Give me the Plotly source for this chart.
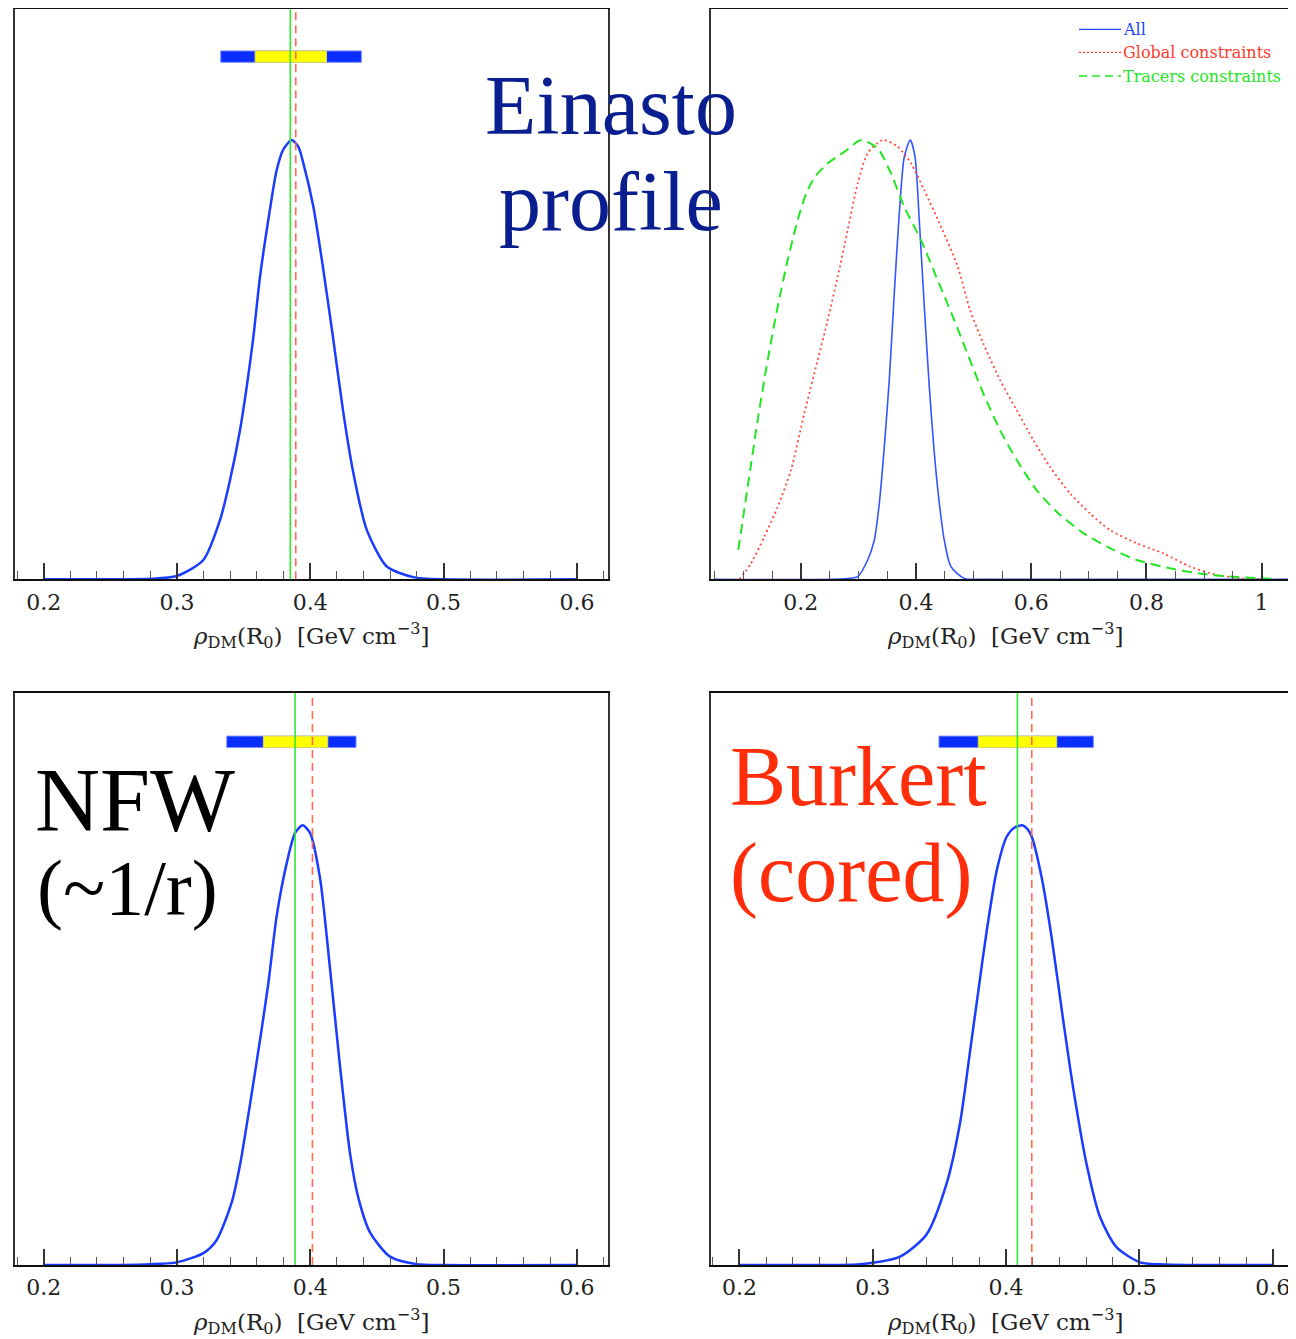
import plotly.graph_objects as go

# The page body has an 8 px margin, so figure pixel = page pixel - 8.
OFF = 8
W, H = 1296 - OFF, 1339 - OFF

# ---------------- data ----------------
# Einasto (top-left): "All" posterior, normalised to peak = 1
ein_x = [0.200, 0.260, 0.2798, 0.2998, 0.3198, 0.3323, 0.3398, 0.3473, 0.3523, 0.3573, 0.3623,
         0.3685, 0.3748, 0.3800, 0.3861, 0.3910, 0.3948, 0.4023, 0.4098, 0.4173, 0.4248, 0.4323, 0.4424,
         0.4574, 0.4773, 0.500, 0.600]
ein_y = [0.000, 0.000, 0.001, 0.0075, 0.044, 0.135, 0.226, 0.340, 0.438, 0.552, 0.689,
         0.818, 0.932, 0.980, 1.000, 0.985, 0.947, 0.848, 0.704, 0.545, 0.379, 0.242, 0.112,
         0.029, 0.005, 0.000, 0.000]
ein_green, ein_red = 0.385, 0.3891
ein_band2 = [0.3328, 0.4383]
ein_band1 = [0.3586, 0.4121]

# NFW (bottom-left)
nfw_x = [0.200, 0.260, 0.2798, 0.2998, 0.3198, 0.3298, 0.3411, 0.3473, 0.3548, 0.3623, 0.3685,
         0.3748, 0.3823, 0.3886, 0.3943, 0.3998, 0.4073, 0.4148, 0.4223, 0.4298, 0.4361,
         0.4448, 0.4598, 0.4798, 0.500, 0.600]
nfw_y = [0.000, 0.000, 0.0016, 0.006, 0.027, 0.057, 0.143, 0.228, 0.366, 0.512, 0.640,
         0.794, 0.914, 0.983, 1.000, 0.983, 0.880, 0.674, 0.452, 0.254, 0.152,
         0.074, 0.019, 0.002, 0.000, 0.000]
nfw_green, nfw_red = 0.3886, 0.4016
nfw_band2 = [0.3373, 0.4343]
nfw_band1 = [0.3648, 0.4131]

# Burkert (bottom-right)
bur_x = [0.200, 0.270, 0.2905, 0.3205, 0.3405, 0.3555, 0.3655, 0.3730, 0.3792, 0.3855, 0.3930,
         0.4005, 0.4065, 0.4122, 0.4160, 0.4193, 0.4268, 0.4343, 0.4430, 0.4505, 0.4605, 0.4705, 0.4830,
         0.5005, 0.5155, 0.540, 0.600]
bur_y = [0.000, 0.000, 0.0016, 0.019, 0.070, 0.186, 0.323, 0.486, 0.623, 0.760, 0.897,
         0.974, 0.995, 1.000, 0.992, 0.974, 0.880, 0.743, 0.554, 0.400, 0.228, 0.109, 0.040,
         0.006, 0.0016, 0.000, 0.000]
bur_green, bur_red = 0.4085, 0.4193
bur_band2 = [0.3497, 0.4655]
bur_band1 = [0.3792, 0.4380]

# Einasto, separate constraints (top-right)
all_x = [0.050, 0.2755, 0.2988, 0.3161, 0.3276, 0.3363, 0.3450, 0.3536, 0.3623, 0.3710, 0.3797,
         0.3901, 0.3983, 0.4057, 0.4144, 0.4231, 0.4318, 0.4405, 0.4491, 0.4607, 0.4839,
         0.520, 1.100]
all_y = [0.000, 0.001, 0.006, 0.044, 0.089, 0.173, 0.302, 0.454, 0.651, 0.833, 0.962,
         1.000, 0.962, 0.818, 0.621, 0.438, 0.287, 0.173, 0.089, 0.029, 0.002,
         0.000, 0.000]
glob_x = [0.0932, 0.1135, 0.1366, 0.1599, 0.1830, 0.2061, 0.2293, 0.2467, 0.2641, 0.2814, 0.2988,
          0.3161, 0.3422, 0.3682, 0.3913, 0.4144, 0.4434, 0.4724, 0.4938, 0.5169, 0.5458,
          0.5748, 0.6036, 0.6326, 0.6672, 0.7020, 0.7368, 0.7832, 0.8293, 0.8757, 0.9220,
          0.9682, 1.0146]
glob_y = [0.000, 0.036, 0.097, 0.165, 0.249, 0.378, 0.499, 0.590, 0.689, 0.795, 0.901,
          0.970, 1.000, 0.985, 0.947, 0.886, 0.803, 0.712, 0.613, 0.537, 0.454,
          0.385, 0.317, 0.256, 0.196, 0.150, 0.112, 0.082, 0.059, 0.029, 0.010,
          0.002, 0.000]
trac_x = [0.0915, 0.1078, 0.1252, 0.1425, 0.1599, 0.1773, 0.1900, 0.2000, 0.2100, 0.2250, 0.2467, 0.2755, 0.3050,
          0.3335, 0.3566, 0.3797, 0.4087, 0.4377, 0.4665, 0.4938, 0.5169, 0.5458, 0.5748,
          0.6095, 0.6442, 0.6905, 0.7368, 0.7832, 0.8410, 0.8988, 0.9568, 1.0262]
trac_y = [0.067, 0.211, 0.363, 0.499, 0.621, 0.727, 0.795, 0.842, 0.880, 0.917, 0.947, 0.973, 1.000,
          0.981, 0.924, 0.848, 0.772, 0.681, 0.590, 0.499, 0.423, 0.340, 0.272,
          0.203, 0.154, 0.105, 0.071, 0.044, 0.025, 0.012, 0.005, 0.001]

legend_labels = ["All", "Global constraints", "Tracers constraints"]
axis_title = "<i>ρ</i><sub>DM</sub>(R<sub>0</sub>)\u00a0\u00a0[GeV\u00a0cm<sup>−3</sup>]"

# ---------------- styling ----------------
BLUE = "#1a3cff"
GREEN = "#33e833"
RED = "#ff6a55"
BAR_BLUE = "#0a2eff"
BAR_YEL = "#ffff00"
SERIF = "DejaVu Serif"
BIG = "Liberation Serif"


def pxx(x):
    return (x - OFF) / W


def pxy(y):
    return 1 - (y - OFF) / H


dom_xl = [pxx(15), pxx(608)]
dom_xr = [pxx(711), 1.0]
dom_yt = [pxy(579.3), pxy(9.2)]
dom_yb = [pxy(1265), pxy(693)]

fig = go.Figure()


def curve(x, y, ax, color, width, dash="solid"):
    fig.add_trace(go.Scatter(
        x=x, y=y, mode="lines", xaxis="x" + ax, yaxis="y" + ax, showlegend=False,
        hoverinfo="skip",
        line=dict(color=color, width=width, dash=dash, shape="spline", smoothing=0.7)))


curve(ein_x, ein_y, "", BLUE, 2.5)
curve(all_x, all_y, "2", "#3355ff", 1.6)
curve(glob_x, glob_y, "2", "#ff4a3a", 1.8, "2px,3px")
curve(trac_x, trac_y, "2", "#22e622", 2.0, "10px,6px")
curve(nfw_x, nfw_y, "3", BLUE, 2.5)
curve(bur_x, bur_y, "4", BLUE, 2.5)


def xaxis(domain, anchor, rng, dtick, minor_dtick):
    return dict(
        domain=domain, anchor=anchor, range=rng, tick0=0, dtick=dtick,
        ticks="inside", ticklen=16, tickwidth=1.5, tickcolor="#333",
        minor=dict(ticks="inside", ticklen=8, tickwidth=1.3, tickcolor="#555",
                   tick0=0, dtick=minor_dtick, showgrid=False),
        showline=True, linecolor="#111", linewidth=2, mirror=True,
        showgrid=False, zeroline=False, automargin=False,
        tickfont=dict(family=SERIF, size=22, color="#222"),
        ticklabelstandoff=2,
    )


def yaxis(domain, anchor, mirror):
    return dict(
        domain=domain, anchor=anchor, range=[0, 1.298],
        showticklabels=False, ticks="", showline=True, linecolor="#333",
        linewidth=1.5, mirror=mirror, showgrid=False, zeroline=False, automargin=False,
    )


rng_left = [0.1785, 0.6233]
rng_br = [0.1787, 0.1787 + 585 / 1333.2]
rng_tr = [0.0441, 0.0441 + 585 / 576.0]

fig.update_layout(
    width=W, height=H,
    margin=dict(l=0, r=0, t=0, b=0),
    paper_bgcolor="white", plot_bgcolor="white",
    xaxis=xaxis(dom_xl, "y", rng_left, 0.1, 0.02),
    yaxis=yaxis(dom_yt, "x", True),
    xaxis2=xaxis(dom_xr, "y2", rng_tr, 0.2, 0.05),
    yaxis2=yaxis(dom_yt, "x2", False),
    xaxis3=xaxis(dom_xl, "y3", rng_left, 0.1, 0.02),
    yaxis3=dict(yaxis(dom_yb, "x3", True), range=[0, 1.301]),
    xaxis4=xaxis(dom_xr, "y4", rng_br, 0.1, 0.02),
    yaxis4=dict(yaxis(dom_yb, "x4", False), range=[0, 1.301]),
)

shapes = []


def bands_and_lines(ax, band2, band1, g, r):
    xr = "x" + ax
    yr = "y" + ax
    shapes.append(dict(type="rect", xref=xr, yref=yr, x0=band2[0], x1=band2[1],
                       y0=1.177, y1=1.203, fillcolor=BAR_BLUE,
                       line=dict(color="#7f8fff", width=1), layer="above"))
    shapes.append(dict(type="rect", xref=xr, yref=yr, x0=band1[0], x1=band1[1],
                       y0=1.177, y1=1.203, fillcolor=BAR_YEL,
                       line=dict(color="#d8d860", width=1), layer="above"))
    shapes.append(dict(type="line", xref=xr, yref=yr + " domain", x0=g, x1=g, y0=0, y1=1,
                       line=dict(color=GREEN, width=1.6), layer="above"))
    shapes.append(dict(type="line", xref=xr, yref=yr + " domain", x0=r, x1=r, y0=0, y1=1,
                       line=dict(color=RED, width=1.6, dash="8px,5px"), layer="above"))


bands_and_lines("", ein_band2, ein_band1, ein_green, ein_red)
bands_and_lines("3", nfw_band2, nfw_band1, nfw_green, nfw_red)
bands_and_lines("4", bur_band2, bur_band1, bur_green, bur_red)

# legend (top-right)
leg_colors = ["#2244ff", "#ff3a2a", "#22e622"]
leg_dash = ["solid", "2px,2px", "8px,5px"]
leg_y = [29.3, 52.3, 76.0]
annotations = []
for lab, c, d, yy in zip(legend_labels, leg_colors, leg_dash, leg_y):
    shapes.append(dict(type="line", xref="paper", yref="paper", x0=pxx(1079), x1=pxx(1121),
                       y0=pxy(yy), y1=pxy(yy), line=dict(color=c, width=1.3, dash=d)))
    annotations.append(dict(xref="paper", yref="paper", x=pxx(1121), y=pxy(yy),
                            xanchor="left", yanchor="middle", showarrow=False, text=lab,
                            font=dict(family=SERIF, size=16, color=c)))

# axis titles
for cx, cy in [(311, 636), (1005, 636), (311, 1321), (1005, 1321)]:
    annotations.append(dict(xref="paper", yref="paper", x=pxx(cx), y=pxy(cy),
                            xanchor="center", yanchor="middle", showarrow=False,
                            text=axis_title, font=dict(family=SERIF, size=23, color="#222")))

# big labels
big = [
    ("Einasto", 611, 105.6, "center", "#0a1f8f", 84),
    ("profile", 611, 202.0, "center", "#0a1f8f", 84),
    ("NFW", 33, 801.0, "left", "#000000", 90),
    ("(~1/r)", 35, 887.0, "left", "#000000", 78),
    ("Burkert", 728, 776.6, "left", "#ff2d0a", 84),
    ("(cored)", 728, 872.6, "left", "#ff2d0a", 84),
]
for t, x, y, xa, c, s in big:
    annotations.append(dict(xref="paper", yref="paper", x=pxx(x), y=pxy(y),
                            xanchor=xa, yanchor="middle", showarrow=False, text=t,
                            font=dict(family=BIG, size=s, color=c)))

fig.update_layout(shapes=shapes, annotations=annotations)
fig.write_html("out.html")
